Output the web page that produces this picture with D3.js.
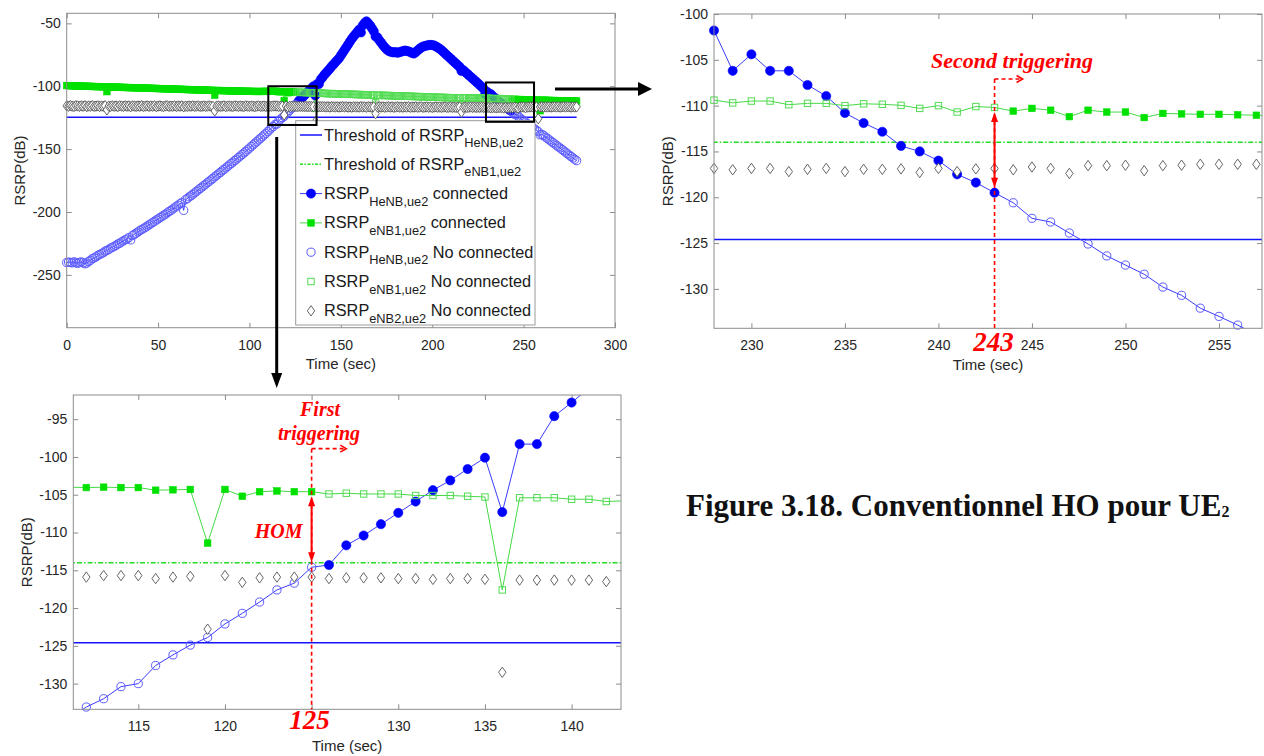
<!DOCTYPE html>
<html>
<head>
<meta charset="utf-8">
<script src="https://cdn.jsdelivr.net/npm/d3@7"></script>
<style>
  body { margin: 0; background: #fff; }
  svg { display: block; }
</style>
</head>
<body>
<svg id="fig" width="1264" height="756"></svg>
<script>
// RSRP (dB) seen by UE2 every second, t = 0 .. 279 s
const rsrpHeNB = [
  -240.2,-239.8,-240.1,-240.5,-239.6,-240.3,-240.9,-240.0,-239.7,-240.4,
  -241.2,-240.6,-239.3,-238.4,-237.1,-236.5,-235.7,-234.6,-233.9,-233.0,
  -232.4,-231.2,-230.6,-229.8,-228.7,-228.1,-227.3,-226.5,-225.4,-224.9,
  -223.8,-223.0,-222.1,-221.5,-220.4,-222.2,-218.6,-217.9,-216.8,-215.9,
  -214.8,-214.0,-213.1,-212.2,-211.3,-210.2,-209.4,-208.3,-207.5,-206.4,
  -205.6,-204.5,-203.7,-202.6,-201.8,-200.7,-199.6,-198.8,-197.6,-196.7,
  -195.5,-194.6,-193.4,-192.5,-198.7,-190.2,-189.3,-188.0,-187.1,-185.9,
  -184.8,-183.6,-182.5,-181.3,-180.2,-179.0,-177.9,-176.7,-175.6,-174.4,
  -173.3,-172.0,-170.9,-169.7,-168.6,-167.3,-166.2,-165.0,-163.8,-162.6,
  -161.4,-160.3,-159.0,-157.9,-156.6,-155.5,-154.2,-153.0,-151.8,-150.5,
  -149.2,-147.9,-146.6,-145.3,-144.1,-142.7,-141.4,-140.2,-138.8,-137.5,
  -136.1,-134.7,-133.1,-132.0,-130.4,-130.0,-127.6,-126.2,-124.9,-123.9,
  -122.1,-120.7,-119.2,-117.6,-116.7,-114.6,-114.3,-111.7,-110.4,-108.9,
  -107.4,-105.9,-104.4,-103.1,-101.6,-100.1,-107.3,-98.3,-98.3,-94.6,
  -92.8,-90.9,-89.3,-87.6,-86.0,-84.1,-82.7,-80.9,-79.4,-77.8,
  -75.6,-73.4,-71.1,-68.9,-66.8,-64.5,-62.3,-60.4,-58.6,-56.8,
  -55.0,-57.2,-51.6,-49.8,-48.4,-49.9,-51.7,-53.8,-56.2,-60.5,
  -61.1,-63.4,-65.3,-67.2,-69.0,-70.6,-71.8,-72.4,-72.9,-73.1,
  -72.8,-73.4,-73.0,-72.5,-72.1,-71.6,-71.9,-72.3,-72.8,-73.6,
  -74.0,-72.9,-71.5,-70.3,-69.2,-68.5,-68.0,-67.6,-67.3,-67.1,
  -67.2,-67.6,-68.3,-69.2,-70.1,-71.2,-72.6,-73.9,-75.3,-76.6,
  -78.0,-79.3,-80.7,-82.0,-83.3,-84.6,-87.9,-87.2,-88.6,-89.9,
  -91.2,-92.5,-93.8,-95.1,-96.4,-97.7,-99.0,-100.4,-101.8,-106.2,
  -104.4,-106.2,-106.2,-107.75,-108.95,-110.8,-111.9,-112.85,-114.4,-115.0,
  -116.0,-117.5,-118.4,-119.5,-120.6,-122.3,-122.7,-123.9,-125.1,-126.4,
  -127.4,-128.4,-129.8,-130.7,-132.1,-133.0,-133.95,-135.0,-136.1,-138.6,
  -138.3,-139.2,-140.5,-141.4,-142.6,-143.7,-144.8,-145.9,-147.0,-148.2,
  -149.1,-150.3,-151.4,-152.5,-153.7,-154.8,-155.9,-157.0,-158.1,-159.2
];
const rsrpENB1 = [
  -99.4,-99.6,-99.5,-99.7,-99.6,-99.8,-99.7,-99.9,-99.8,-100.0,
  -99.9,-100.1,-100.0,-100.2,-100.1,-100.3,-100.2,-100.4,-100.3,-100.4,
  -100.5,-100.4,-104.3,-100.6,-100.5,-100.7,-100.6,-100.8,-100.7,-100.9,
  -100.8,-101.0,-100.9,-101.1,-101.0,-101.2,-101.1,-101.2,-101.3,-101.2,
  -101.4,-101.3,-101.5,-101.4,-101.6,-101.5,-101.7,-101.6,-101.8,-101.7,
  -101.9,-101.8,-102.0,-101.9,-102.1,-102.0,-102.2,-102.1,-102.3,-102.2,
  -102.4,-102.3,-102.5,-102.4,-102.6,-102.5,-102.7,-102.6,-102.8,-102.7,
  -102.9,-102.8,-103.0,-102.9,-103.1,-103.0,-103.1,-103.2,-103.1,-103.3,
  -103.2,-107.1,-103.4,-103.3,-103.5,-103.4,-103.5,-103.6,-103.5,-103.7,
  -103.6,-103.7,-103.8,-103.7,-103.9,-103.8,-103.9,-104.0,-103.9,-104.0,
  -104.1,-104.0,-104.1,-104.2,-104.1,-104.2,-104.1,-104.2,-104.1,-104.0,
  -104.1,-104.0,-104.05,-104.0,-104.05,-104.05,-104.4,-104.35,-104.3,-111.4,
  -104.3,-105.2,-104.6,-104.5,-104.6,-104.6,-104.9,-104.8,-104.9,-104.9,
  -104.9,-105.1,-105.1,-105.1,-105.2,-105.3,-117.6,-105.4,-105.4,-105.4,
  -105.6,-105.6,-105.9,-105.8,-105.9,-105.8,-106.0,-105.9,-106.1,-106.0,
  -106.2,-106.1,-106.3,-106.2,-106.4,-106.3,-106.5,-106.4,-106.6,-106.5,
  -106.7,-106.6,-106.8,-106.7,-106.9,-106.8,-107.0,-106.9,-107.1,-113.2,
  -107.2,-107.1,-107.3,-107.2,-107.4,-107.3,-107.5,-107.4,-107.6,-107.5,
  -107.7,-107.6,-107.8,-107.7,-107.9,-107.8,-108.0,-107.9,-108.1,-108.0,
  -108.2,-108.1,-108.3,-108.2,-108.4,-108.3,-108.5,-108.4,-108.6,-108.5,
  -108.7,-108.6,-108.8,-108.7,-108.9,-108.8,-109.0,-108.9,-109.1,-109.0,
  -109.2,-109.1,-109.2,-109.3,-109.2,-109.3,-113.9,-109.2,-109.4,-109.3,
  -109.4,-109.3,-109.5,-109.4,-109.3,-109.5,-109.4,-109.3,-109.4,-109.7,
  -109.5,-109.5,-109.9,-109.75,-109.75,-110.0,-109.8,-109.85,-109.97,-110.3,
  -110.0,-110.7,-110.1,-110.2,-110.6,-110.3,-110.5,-111.2,-110.5,-110.7,
  -110.7,-111.3,-110.85,-110.9,-110.95,-110.95,-111.0,-111.05,-111.1,-119.5,
  -111.0,-111.2,-111.1,-111.3,-111.2,-111.3,-111.4,-111.3,-111.5,-111.4,
  -111.5,-111.6,-111.5,-111.6,-111.7,-111.6,-111.7,-111.8,-111.7,-111.8
];
const rsrpENB2 = [
  -115.6,-115.9,-115.4,-115.8,-116.1,-115.5,-115.7,-116.0,-115.6,-115.9,
  -115.5,-116.2,-115.7,-115.9,-115.4,-116.0,-115.8,-115.6,-116.1,-115.7,
  -115.9,-115.5,-118.8,-115.8,-116.0,-115.6,-115.9,-115.7,-116.2,-115.5,
  -115.8,-116.0,-115.6,-115.9,-115.7,-116.3,-115.6,-115.8,-116.0,-115.7,
  -115.9,-115.5,-116.1,-115.8,-115.6,-116.0,-115.7,-115.9,-115.6,-116.2,
  -115.8,-115.6,-115.9,-116.1,-115.7,-115.5,-116.0,-115.8,-115.9,-115.6,
  -116.1,-115.7,-115.9,-115.6,-116.4,-115.8,-116.0,-115.7,-115.9,-115.6,
  -116.0,-115.8,-115.6,-116.1,-115.9,-115.7,-116.0,-115.8,-115.6,-115.9,
  -116.1,-119.6,-115.8,-115.7,-116.0,-115.9,-115.6,-116.2,-115.8,-115.7,
  -115.9,-116.1,-115.6,-115.8,-116.0,-115.7,-115.9,-116.1,-115.6,-115.8,
  -116.0,-115.7,-115.9,-116.2,-115.8,-115.6,-116.0,-115.9,-115.7,-116.1,
  -115.8,-115.9,-115.9,-115.7,-115.7,-115.7,-116.1,-115.9,-115.8,-122.8,
  -115.7,-116.6,-116.0,-115.9,-115.9,-115.9,-116.1,-116.0,-116.0,-116.0,
  -116.1,-116.1,-116.2,-116.1,-116.1,-116.2,-128.5,-116.3,-116.3,-116.3,
  -116.3,-116.3,-116.5,-116.3,-116.6,-116.2,-116.4,-116.5,-116.3,-116.6,
  -116.4,-116.2,-116.5,-116.3,-116.6,-116.4,-116.7,-116.3,-116.5,-116.4,
  -116.6,-116.2,-116.5,-116.4,-116.7,-116.3,-116.5,-116.6,-116.4,-121.8,
  -116.5,-116.3,-116.6,-116.4,-116.7,-116.5,-116.3,-116.6,-116.4,-116.8,
  -116.5,-116.3,-116.6,-116.5,-116.7,-116.4,-116.6,-116.3,-116.8,-116.5,
  -116.6,-116.4,-116.7,-116.5,-116.3,-116.8,-116.6,-116.4,-116.7,-116.5,
  -116.9,-116.6,-116.4,-116.7,-116.5,-116.8,-116.6,-116.4,-116.9,-116.7,
  -116.5,-116.8,-116.6,-116.9,-116.7,-116.5,-120.6,-116.8,-116.6,-116.9,
  -116.7,-116.5,-116.8,-116.6,-116.9,-116.7,-116.8,-116.6,-116.85,-117.0,
  -116.85,-116.85,-117.2,-116.95,-116.85,-117.2,-116.95,-116.95,-116.9,-117.3,
  -116.85,-117.2,-116.9,-116.85,-117.0,-116.7,-116.85,-117.4,-116.55,-116.55,
  -116.5,-117.1,-116.55,-116.5,-116.4,-116.4,-116.4,-116.4,-125.8,-116.5,
  -116.3,-116.6,-116.4,-116.5,-116.3,-116.6,-116.4,-116.2,-116.5,-116.3,
  -116.6,-116.4,-116.2,-116.5,-116.3,-116.4,-116.6,-116.3,-116.5,-116.4
];
const thresholdHeNB = -124.6;
const thresholdENB1 = -114;
const firstHandover = 125;   // last second served by eNB1 before switching to the HeNB
const secondHandover = 243;  // last second served by the HeNB before switching back to eNB1

const ticksOverviewX = [0, 50, 100, 150, 200, 250, 300];
const ticksOverviewY = [-250, -200, -150, -100, -50];
const ticksSecondX = [230, 235, 240, 245, 250, 255];
const ticksSecondY = [-130, -125, -120, -115, -110, -105, -100];
const ticksFirstX = [115, 120, 125, 130, 135, 140];
const ticksFirstY = [-130, -125, -120, -115, -110, -105, -100, -95];

const legendLabels = [
  { pre: 'Threshold of RSRP', sub: 'HeNB,ue2', post: '' },
  { pre: 'Threshold of RSRP', sub: 'eNB1,ue2', post: '' },
  { pre: 'RSRP', sub: 'HeNB,ue2', post: 'connected' },
  { pre: 'RSRP', sub: 'eNB1,ue2', post: 'connected' },
  { pre: 'RSRP', sub: 'HeNB,ue2', post: 'No connected' },
  { pre: 'RSRP', sub: 'eNB1,ue2', post: 'No connected' },
  { pre: 'RSRP', sub: 'eNB2,ue2', post: 'No connected' }
];

const COL = {
  blue: '#0000ff', blueOpen: '#5c5cff', blueLine: '#3c3cff', blueThr: '#1414ff',
  green: '#00e100', greenOpen: '#52dc52', greenLine: '#46d846', greenThr: '#22dd22',
  diamond: '#555555', axis: '#8c8c8c', text: '#262626', red: '#ff0000'
};
const SANS = "'Liberation Sans', Arial, Helvetica, sans-serif";
const SERIF = "'Liberation Serif', 'Times New Roman', serif";

const rows = rsrpHeNB.map((v, t) => {
  const heConn = t > firstHandover && t <= secondHandover;
  return { t, he: v, e1: rsrpENB1[t], e2: rsrpENB2[t], heConn, e1Conn: !heConn };
});

const svg = d3.select('#fig');
svg.append('rect').attr('width', 1264).attr('height', 756).attr('fill', '#fff');
const defs = svg.append('defs');

const diamondPath = 'M0,-5.2L3.7,0L0,5.2L-3.7,0Z';

function markerCircleFilled(sel) {
  sel.append('circle').attr('r', 4.6).attr('fill', COL.blue).attr('stroke', COL.blue).attr('stroke-width', 0.6);
}
function markerCircleOpen(sel) {
  sel.append('circle').attr('r', 4.1).attr('fill', 'none').attr('stroke', COL.blueOpen).attr('stroke-width', 1);
}
function markerSquareFilled(sel) {
  sel.append('rect').attr('x', -3.3).attr('y', -3.3).attr('width', 6.6).attr('height', 6.6)
    .attr('fill', COL.green).attr('stroke', COL.green).attr('stroke-width', 0.6);
}
function markerSquareOpen(sel) {
  sel.append('rect').attr('x', -3.2).attr('y', -3.2).attr('width', 6.4).attr('height', 6.4)
    .attr('fill', 'none').attr('stroke', COL.greenOpen).attr('stroke-width', 1);
}
function markerDiamond(sel) {
  sel.append('path').attr('d', diamondPath).attr('fill', '#fff').attr('stroke', COL.diamond).attr('stroke-width', 0.9);
}

function panel(cfg) {
  const x = d3.scaleLinear().domain(cfg.xDomain).range(cfg.xRange);
  const y = d3.scaleLinear().domain(cfg.yDomain).range(cfg.yRange);
  const [x0, x1] = cfg.xRange;
  const [yb, yt] = cfg.yRange;
  const g = svg.append('g');

  const clipId = 'clip-' + cfg.name;
  defs.append('clipPath').attr('id', clipId)
    .append('rect').attr('x', x0).attr('y', yt).attr('width', x1 - x0).attr('height', yb - yt);

  const inside = (t, v) => t >= cfg.xDomain[0] && t <= cfg.xDomain[1] && v >= cfg.yDomain[0] && v <= cfg.yDomain[1];

  // axes with inward ticks on all four sides
  const fmt = d => cfg.hideXLabel && cfg.hideXLabel.includes(d) ? '' : String(d);
  const styleAxis = a => {
    a.select('.domain').remove();
    a.selectAll('.tick line').attr('stroke', COL.axis);
    a.selectAll('.tick text').attr('fill', COL.text).attr('font-family', SANS).attr('font-size', 14);
  };
  g.append('g').attr('transform', `translate(0,${yb})`)
    .call(d3.axisBottom(x).tickValues(cfg.xTicks).tickSize(-5).tickPadding(12).tickFormat(fmt)).call(styleAxis);
  g.append('g').attr('transform', `translate(0,${yt})`)
    .call(d3.axisTop(x).tickValues(cfg.xTicks).tickSize(-5).tickFormat('')).call(styleAxis);
  g.append('g').attr('transform', `translate(${x0},0)`)
    .call(d3.axisLeft(y).tickValues(cfg.yTicks).tickSize(-5).tickPadding(6).tickFormat(d => String(d))).call(styleAxis);
  g.append('g').attr('transform', `translate(${x1},0)`)
    .call(d3.axisRight(y).tickValues(cfg.yTicks).tickSize(-5).tickFormat('')).call(styleAxis);
  g.selectAll('.tick text').attr('font-family', SANS).attr('font-size', 14);

  g.append('text').attr('x', (x0 + x1) / 2).attr('y', yb + 41.5).attr('text-anchor', 'middle')
    .attr('font-family', SANS).attr('font-size', 15).attr('fill', COL.text).text('Time (sec)');
  g.append('text').attr('transform', `translate(${x0 - 47},${(yb + yt) / 2}) rotate(-90)`)
    .attr('text-anchor', 'middle').attr('dominant-baseline', 'central')
    .attr('font-family', SANS).attr('font-size', 15).attr('fill', COL.text).text('RSRP(dB)');

  // data layer
  const data = g.append('g');
  const lines = data.append('g').attr('clip-path', `url(#${clipId})`);
  const ends = [rows[0], rows[rows.length - 1]];
  lines.append('path').datum(ends)
    .attr('d', d3.line().x(d => x(d.t)).y(() => y(thresholdHeNB)))
    .attr('stroke', COL.blueThr).attr('stroke-width', 1.5).attr('fill', 'none');
  lines.append('path').datum(ends)
    .attr('d', d3.line().x(d => x(d.t)).y(() => y(thresholdENB1)))
    .attr('stroke', COL.greenThr).attr('stroke-width', 1.4).attr('stroke-dasharray', '5,2,1.5,2').attr('fill', 'none');
  lines.append('path').datum(rows)
    .attr('d', d3.line().x(d => x(d.t)).y(d => y(d.he)))
    .attr('stroke', COL.blueLine).attr('stroke-width', 1).attr('fill', 'none');
  lines.append('path').datum(rows)
    .attr('d', d3.line().x(d => x(d.t)).y(d => y(d.e1)))
    .attr('stroke', COL.greenLine).attr('stroke-width', 1).attr('fill', 'none');

  const place = (list, key, draw) => {
    data.append('g').selectAll('g').data(list.filter(d => inside(d.t, d[key]))).join('g')
      .attr('transform', d => `translate(${x(d.t)},${y(d[key])})`).each(function () { draw(d3.select(this)); });
  };
  place(rows.filter(d => d.heConn), 'he', markerCircleFilled);
  place(rows.filter(d => d.e1Conn), 'e1', markerSquareFilled);
  place(rows.filter(d => !d.heConn), 'he', markerCircleOpen);
  place(rows.filter(d => !d.e1Conn), 'e1', markerSquareOpen);
  place(rows, 'e2', markerDiamond);

  g.append('rect').attr('x', x0).attr('y', yt).attr('width', x1 - x0).attr('height', yb - yt)
    .attr('fill', 'none').attr('stroke', COL.axis).attr('stroke-width', 1);

  return { g, x, y };
}

// ---- overview 0..300 s
const overview = panel({
  name: 'overview', xDomain: [0, 300], yDomain: [-292, -42],
  xRange: [66.7, 615], yRange: [327.7, 13.3],
  xTicks: ticksOverviewX, yTicks: ticksOverviewY
});

// legend
(function () {
  const lg = overview.g.append('g');
  lg.append('rect').attr('x', 295.7).attr('y', 120.7).attr('width', 239.3).attr('height', 204.3)
    .attr('fill', '#fff').attr('stroke', '#9a9a9a').attr('stroke-width', 1);
  const symbols = [
    s => s.append('line').attr('x1', -11).attr('x2', 11).attr('stroke', COL.blueThr).attr('stroke-width', 1.5),
    s => s.append('line').attr('x1', -11).attr('x2', 11).attr('stroke', COL.greenThr).attr('stroke-width', 1.4).attr('stroke-dasharray', '3,1.5,1.5,1.5'),
    s => { s.append('line').attr('x1', -11).attr('x2', 11).attr('stroke', COL.blueLine).attr('stroke-width', 1); markerCircleFilled(s); },
    s => { s.append('line').attr('x1', -11).attr('x2', 11).attr('stroke', COL.greenLine).attr('stroke-width', 1); markerSquareFilled(s); },
    s => markerCircleOpen(s),
    s => markerSquareOpen(s),
    s => markerDiamond(s)
  ];
  legendLabels.forEach((lab, i) => {
    const cy = 135 + i * 29.3;
    symbols[i](lg.append('g').attr('transform', `translate(311,${cy})`));
    const t = lg.append('text').attr('x', 324).attr('y', cy + 5.5)
      .attr('font-family', SANS).attr('font-size', 16.3).attr('fill', '#1a1a1a');
    t.append('tspan').text(lab.pre);
    t.append('tspan').attr('dy', 6.5).attr('font-size', 12.8).text(lab.sub);
    if (lab.post) t.append('tspan').attr('dy', -6.5).attr('dx', 4.5).attr('font-size', 16.3).text(lab.post);
  });
})();

// zoom windows marked on the overview
const windowFirst = { t0: 110.3, t1: 136.7, v0: -130.8, v1: -100 };
const windowSecond = { t0: 229.4, t1: 255.7, v0: -128.3, v1: -97 };
[windowFirst, windowSecond].forEach(w => {
  overview.g.append('rect')
    .attr('x', overview.x(w.t0)).attr('y', overview.y(w.v1))
    .attr('width', overview.x(w.t1) - overview.x(w.t0)).attr('height', overview.y(w.v0) - overview.y(w.v1))
    .attr('fill', 'none').attr('stroke', '#000').attr('stroke-width', 2);
});

// ---- detail around the second handover
const second = panel({
  name: 'second', xDomain: [228, 257.3], yDomain: [-134.3, -100],
  xRange: [714, 1262], yRange: [328.3, 14],
  xTicks: ticksSecondX, yTicks: ticksSecondY
});

// ---- detail around the first handover
const first = panel({
  name: 'first', xDomain: [111.25, 142.85], yDomain: [-133.4, -91.8],
  xRange: [73.3, 621], yRange: [709.3, 395],
  xTicks: ticksFirstX, yTicks: ticksFirstY, hideXLabel: [125]
});

// ---- arrows and annotations
const ann = svg.append('g');
function head(tipX, tipY, dx, dy, len, halfW, color) {
  const px = -dy, py = dx;
  const bx = tipX - dx * len, by = tipY - dy * len;
  ann.append('path')
    .attr('d', `M${tipX},${tipY}L${bx + px * halfW},${by + py * halfW}L${bx - px * halfW},${by - py * halfW}Z`)
    .attr('fill', color);
}
function chevron(tipX, tipY, len, halfW) {
  ann.append('path')
    .attr('d', `M${tipX - len},${tipY - halfW}L${tipX},${tipY}L${tipX - len},${tipY + halfW}`)
    .attr('fill', 'none').attr('stroke', COL.red).attr('stroke-width', 1.6);
}

// black linking arrows
ann.append('line').attr('x1', 555).attr('y1', 89).attr('x2', 640).attr('y2', 89).attr('stroke', '#000').attr('stroke-width', 3);
head(652, 89, 1, 0, 14, 7, '#000');
ann.append('line').attr('x1', 276.7).attr('y1', 137).attr('x2', 276.7).attr('y2', 374).attr('stroke', '#000').attr('stroke-width', 3);
head(276.7, 388, 0, 1, 15, 5.5, '#000');

function triggerMark(p, t, vTop, vHigh, vLow, tArrowEnd) {
  const xm = p.x(t);
  const yTop = p.y(vTop);
  const yBottom = p.y.range()[0];
  ann.append('line').attr('x1', xm).attr('x2', xm).attr('y1', yTop).attr('y2', yBottom)
    .attr('stroke', COL.red).attr('stroke-width', 1.6).attr('stroke-dasharray', '4,3');
  ann.append('line').attr('x1', xm).attr('x2', p.x(tArrowEnd) - 1).attr('y1', yTop).attr('y2', yTop)
    .attr('stroke', COL.red).attr('stroke-width', 1.6).attr('stroke-dasharray', '4,3');
  chevron(p.x(tArrowEnd), yTop, 6, 3.5);
  const yHi = p.y(vHigh) + 4.5, yLo = p.y(vLow) - 5;
  ann.append('line').attr('x1', xm).attr('x2', xm).attr('y1', yHi + 8).attr('y2', yLo - 8)
    .attr('stroke', COL.red).attr('stroke-width', 2);
  head(xm, yHi, 0, -1, 10, 3.5, COL.red);
  head(xm, yLo, 0, 1, 10, 3.5, COL.red);
  return xm;
}

const redText = (x, y, txt, size, anchor) => ann.append('text').attr('x', x).attr('y', y)
  .attr('text-anchor', anchor || 'middle').attr('font-family', SERIF).attr('font-weight', 'bold')
  .attr('font-style', 'italic').attr('font-size', size).attr('fill', COL.red).text(txt);

const xs = triggerMark(second, secondHandover, -107.1, rsrpENB1[secondHandover], rsrpHeNB[secondHandover], 244.5);
redText(1012, 68, 'Second triggering', 22);
redText(xs - 1, 351, String(secondHandover), 27);

const xf = triggerMark(first, firstHandover, -98.9, rsrpENB1[firstHandover], rsrpHeNB[firstHandover], 127.0);
redText(320, 416, 'First', 20);
redText(319, 440, 'triggering', 20);
redText(xf - 9, 538, 'HOM', 20, 'end');
redText(xf - 2, 729, String(firstHandover), 27);

// caption
const cap = svg.append('text').attr('x', 686).attr('y', 516)
  .attr('font-family', SERIF).attr('font-weight', 'bold').attr('font-size', 31).attr('fill', '#111');
cap.append('tspan').text('Figure 3.18. Conventionnel HO pour UE');
cap.append('tspan').attr('font-size', 16).attr('dy', 1).text('2');
</script>
</body>
</html>
